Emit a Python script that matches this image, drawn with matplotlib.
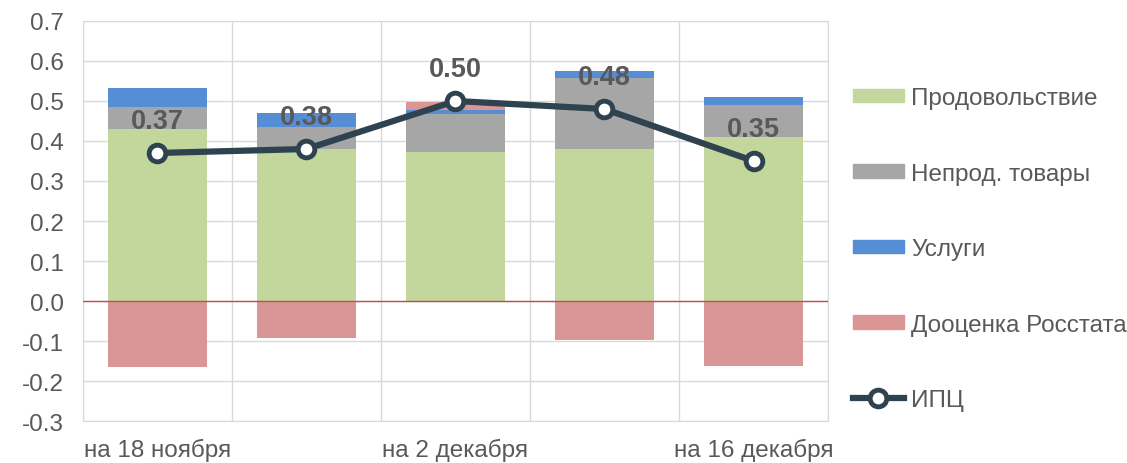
import numpy as np
import matplotlib
matplotlib.use("Agg")
import matplotlib.pyplot as plt
from matplotlib.lines import Line2D
from matplotlib.patches import Patch

plt.rcParams['font.family'] = ['Liberation Sans', 'DejaVu Sans']

# data
dates = ["на 18 ноября", "", "на 2 декабря", "", "на 16 декабря"]
food = [0.43, 0.38, 0.3725, 0.38, 0.41]
nonfood = [0.055, 0.055, 0.095, 0.1775, 0.08]
services = [0.0475, 0.035, 0.01, 0.0175, 0.02]
rosstat = [-0.165, -0.0925, 0.02, -0.0975, -0.1625]
cpi = [0.37, 0.38, 0.50, 0.48, 0.35]

names = ["Продовольствие", "Непрод. товары", "Услуги", "Дооценка Росстата", "ИПЦ"]
c_food = "#C3D69B"
c_nonfood = "#A6A6A6"
c_serv = "#558ED5"
c_ross = "#D99694"
c_line = "#2E424F"
grid_c = "#D9D9D9"
txt_c = "#595959"

x = np.arange(len(food))
food = np.array(food)
nonfood = np.array(nonfood)
services = np.array(services)
rosstat = np.array(rosstat)

fig = plt.figure(figsize=(11.27, 4.64), dpi=100)
ax = fig.add_axes([0.0736, 0.0905, 0.6611, 0.8621])

w = 0.66
ax.bar(x, food, w, color=c_food, zorder=2)
ax.bar(x, nonfood, w, bottom=food, color=c_nonfood, zorder=2)
ax.bar(x, services, w, bottom=food + nonfood, color=c_serv, zorder=2)
ross_bottom = np.where(rosstat > 0, food + nonfood + services, 0)
ax.bar(x, rosstat, w, bottom=ross_bottom, color=c_ross, zorder=2)

ax.axhline(0, color="#C0504D", lw=1, zorder=3)

ax.plot(x, cpi, color=c_line, lw=4.5, marker="o", ms=12, mfc="white",
        mec=c_line, mew=3.5, zorder=5)
for xi, v in zip(x, cpi):
    ax.annotate(f"{v:.2f}", (xi, v), xytext=(0, 23), textcoords="offset points",
                ha="center", va="center", fontsize=19.5, fontweight="bold",
                color=txt_c, zorder=6)

ax.set_xlim(-0.5, len(food) - 0.5)
ax.set_ylim(-0.3, 0.7)
ax.set_yticks(np.arange(-0.3, 0.71, 0.1))
ax.set_yticklabels([f"{t:.1f}" for t in np.arange(-0.3, 0.71, 0.1)])
ax.set_xticks(x)
ax.set_xticklabels(dates)
ax.set_xticks(np.arange(-0.5, len(food), 1), minor=True)
ax.grid(True, axis="y", color=grid_c, lw=1, zorder=0)
ax.grid(True, axis="x", which="minor", color=grid_c, lw=1, zorder=0)
ax.tick_params(axis="both", which="both", length=0, labelsize=17.5, colors=txt_c)
ax.tick_params(axis="x", pad=12)
ax.tick_params(axis="y", pad=14)
for s in ax.spines.values():
    s.set_color(grid_c)

handles = [Patch(color=c_food), Patch(color=c_nonfood), Patch(color=c_serv),
           Patch(color=c_ross),
           Line2D([], [], color=c_line, lw=4.5, marker="o", ms=12, mfc="white",
                  mec=c_line, mew=3.5)]
leg = fig.legend(handles, names, loc="upper left", bbox_to_anchor=(0.748, 0.831),
                 frameon=False, fontsize=17.5, labelspacing=2.2, handlelength=2.1,
                 handleheight=0.5, handletextpad=0.3, borderaxespad=0)
for t in leg.get_texts():
    t.set_color(txt_c)

fig.savefig("out.png", dpi=100)
